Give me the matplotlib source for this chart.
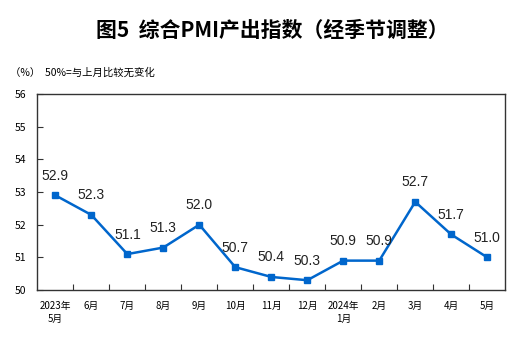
import matplotlib
matplotlib.use("Agg")
import matplotlib.pyplot as plt

plt.rcParams["font.family"] = ["Noto Sans CJK SC", "DejaVu Sans"]

# composite PMI output index, seasonally adjusted
months = ["2023年\n5月", "6月", "7月", "8月", "9月", "10月", "11月", "12月",
          "2024年\n1月", "2月", "3月", "4月", "5月"]
values = [52.9, 52.3, 51.1, 51.3, 52.0, 50.7, 50.4, 50.3, 50.9, 50.9, 52.7, 51.7, 51.0]
y_ticks = [50, 51, 52, 53, 54, 55, 56]

line_color = "#0066CC"

fig = plt.figure(figsize=(5.15, 3.39), dpi=100)
ax = fig.add_axes([0.0725, 0.1445, 0.9085, 0.578])

x = list(range(len(values)))
ax.plot(x, values, color=line_color, linewidth=1.8, marker="s",
        markersize=4.5, zorder=3)

for xi, v in zip(x, values):
    ax.annotate(f"{v:.1f}", (xi, v), xytext=(0, 9), textcoords="offset points",
                ha="center", va="bottom", fontsize=10, family="Liberation Sans",
                color="#222222")

ax.set_xlim(-0.5, len(values) - 0.5)
ax.set_ylim(50, 56)
ax.set_yticks(y_ticks)
ax.set_yticklabels([str(t) for t in y_ticks], fontsize=7.5)

# category labels centred, tick marks on the boundaries
ax.set_xticks([i + 0.5 for i in x[:-1]])
ax.set_xticklabels([])
ax.set_xticks(x, minor=True)
ax.set_xticklabels(months, minor=True, fontsize=7, va="top", linespacing=1.3)
ax.tick_params(axis="x", which="major", direction="in", length=4, color="#333333")
ax.tick_params(axis="x", which="minor", length=0, pad=8)
ax.tick_params(axis="y", direction="in", length=4, pad=8, color="#333333")

for sp in ax.spines.values():
    sp.set_color("#333333")
    sp.set_linewidth(1.0)

fig.text(0.528, 0.9115, "图5  综合PMI产出指数（经季节调整）", ha="center",
         va="center", fontsize=15, fontweight="bold")
fig.text(0.02, 0.785, "（%）  50%=与上月比较无变化", ha="left", va="center",
         fontsize=7.5)

fig.savefig("out.png", dpi=100)
